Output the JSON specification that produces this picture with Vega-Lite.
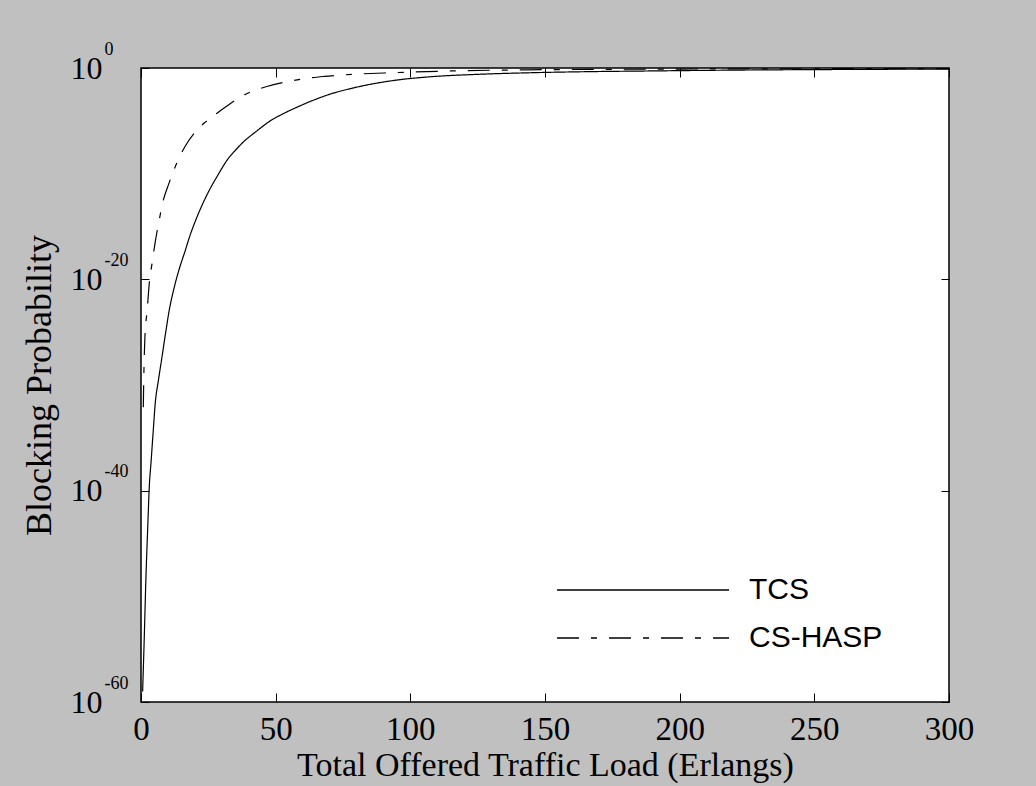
{
  "$schema": "https://vega.github.io/schema/vega-lite/v6.json",
  "width": 808,
  "height": 634,
  "autosize": "none",
  "padding": {"left": 141, "top": 68, "right": 87, "bottom": 84},
  "background": "#c0c0c0",
  "config": {
    "view": {"fill": "white", "stroke": "black", "strokeWidth": 1.5},
    "font": "Liberation Serif"
  },
  "datasets": {
    "curves": [
      {"load": 0.6, "p": 1e-59, "scheme": "TCS"},
      {"load": 1.2, "p": 1e-54, "scheme": "TCS"},
      {"load": 1.8, "p": 3.162e-49, "scheme": "TCS"},
      {"load": 2.5, "p": 3.162e-44, "scheme": "TCS"},
      {"load": 3.1, "p": 3.162e-40, "scheme": "TCS"},
      {"load": 3.7, "p": 3.981e-38, "scheme": "TCS"},
      {"load": 4.5, "p": 3.162e-35, "scheme": "TCS"},
      {"load": 5.3, "p": 1.995e-32, "scheme": "TCS"},
      {"load": 6.5, "p": 3.162e-30, "scheme": "TCS"},
      {"load": 7.7, "p": 3.162e-28, "scheme": "TCS"},
      {"load": 9.0, "p": 5.012e-26, "scheme": "TCS"},
      {"load": 10.5, "p": 1.259e-23, "scheme": "TCS"},
      {"load": 12.3, "p": 1.585e-21, "scheme": "TCS"},
      {"load": 14.1, "p": 7.943e-20, "scheme": "TCS"},
      {"load": 16.4, "p": 5.012e-18, "scheme": "TCS"},
      {"load": 18.0, "p": 1e-16, "scheme": "TCS"},
      {"load": 20.0, "p": 2.512e-15, "scheme": "TCS"},
      {"load": 23.0, "p": 1.585e-13, "scheme": "TCS"},
      {"load": 25.5, "p": 3.162e-12, "scheme": "TCS"},
      {"load": 28.4, "p": 6.31e-11, "scheme": "TCS"},
      {"load": 32.3, "p": 2.512e-9, "scheme": "TCS"},
      {"load": 35.0, "p": 1.585e-8, "scheme": "TCS"},
      {"load": 38.0, "p": 1e-7, "scheme": "TCS"},
      {"load": 42.8, "p": 1e-6, "scheme": "TCS"},
      {"load": 48.0, "p": 1e-5, "scheme": "TCS"},
      {"load": 53.0, "p": 5.012e-5, "scheme": "TCS"},
      {"load": 58.0, "p": 1.995e-4, "scheme": "TCS"},
      {"load": 64.0, "p": 8.913e-4, "scheme": "TCS"},
      {"load": 70.5, "p": 3.548e-3, "scheme": "TCS"},
      {"load": 77.0, "p": 1e-2, "scheme": "TCS"},
      {"load": 84.0, "p": 2.512e-2, "scheme": "TCS"},
      {"load": 95.0, "p": 0.0724, "scheme": "TCS"},
      {"load": 108.0, "p": 0.1514, "scheme": "TCS"},
      {"load": 125.0, "p": 0.2512, "scheme": "TCS"},
      {"load": 146.0, "p": 0.3631, "scheme": "TCS"},
      {"load": 165.0, "p": 0.4467, "scheme": "TCS"},
      {"load": 189.0, "p": 0.5248, "scheme": "TCS"},
      {"load": 220.0, "p": 0.631, "scheme": "TCS"},
      {"load": 260.0, "p": 0.7244, "scheme": "TCS"},
      {"load": 300.0, "p": 0.7943, "scheme": "TCS"},
      {"load": 0.85, "p": 7.943e-33, "scheme": "CS-HASP"},
      {"load": 1.1, "p": 3.162e-29, "scheme": "CS-HASP"},
      {"load": 1.45, "p": 3.162e-26, "scheme": "CS-HASP"},
      {"load": 2.3, "p": 1.259e-23, "scheme": "CS-HASP"},
      {"load": 3.1, "p": 5.012e-21, "scheme": "CS-HASP"},
      {"load": 4.1, "p": 3.162e-19, "scheme": "CS-HASP"},
      {"load": 5.2, "p": 2.512e-17, "scheme": "CS-HASP"},
      {"load": 6.9, "p": 6.31e-15, "scheme": "CS-HASP"},
      {"load": 8.0, "p": 1.585e-13, "scheme": "CS-HASP"},
      {"load": 10.4, "p": 1.259e-11, "scheme": "CS-HASP"},
      {"load": 13.3, "p": 1e-9, "scheme": "CS-HASP"},
      {"load": 16.4, "p": 3.981e-8, "scheme": "CS-HASP"},
      {"load": 20.7, "p": 1.259e-6, "scheme": "CS-HASP"},
      {"load": 24.0, "p": 7.943e-6, "scheme": "CS-HASP"},
      {"load": 28.1, "p": 5.012e-5, "scheme": "CS-HASP"},
      {"load": 31.9, "p": 2.512e-4, "scheme": "CS-HASP"},
      {"load": 38.0, "p": 2.512e-3, "scheme": "CS-HASP"},
      {"load": 46.7, "p": 1.778e-2, "scheme": "CS-HASP"},
      {"load": 54.2, "p": 5.012e-2, "scheme": "CS-HASP"},
      {"load": 61.0, "p": 0.1, "scheme": "CS-HASP"},
      {"load": 68.0, "p": 0.1585, "scheme": "CS-HASP"},
      {"load": 80.0, "p": 0.263, "scheme": "CS-HASP"},
      {"load": 94.0, "p": 0.3631, "scheme": "CS-HASP"},
      {"load": 115.0, "p": 0.5248, "scheme": "CS-HASP"},
      {"load": 150.0, "p": 0.6918, "scheme": "CS-HASP"},
      {"load": 200.0, "p": 0.7943, "scheme": "CS-HASP"},
      {"load": 250.0, "p": 0.8511, "scheme": "CS-HASP"},
      {"load": 300.0, "p": 0.8913, "scheme": "CS-HASP"}
    ]
  },
  "data": {"name": "curves"},
  "resolve": {"axis": {"x": "independent", "y": "independent"}},
  "layer": [
    {
      "mark": {"type": "line", "color": "black", "strokeWidth": 1.2, "interpolate": "monotone"},
      "encoding": {
        "x": {
          "field": "load", "type": "quantitative",
          "scale": {"domain": [0, 300], "nice": false},
          "axis": {
            "orient": "bottom", "values": [0, 50, 100, 150, 200, 250, 300],
            "title": "Total Offered Traffic Load (Erlangs)",
            "domain": false, "grid": false,
            "tickSize": -9, "tickColor": "black", "tickWidth": 1,
            "labelFont": "Liberation Serif", "labelFontSize": 33, "labelColor": "black",
            "labelPadding": 20, "labelFlush": false, "labelOverlap": false,
            "titleFont": "Liberation Serif", "titleFontSize": 34, "titleFontWeight": "normal", "titleColor": "black",
            "titlePadding": 2
          }
        },
        "y": {
          "field": "p", "type": "quantitative",
          "scale": {"type": "log", "domain": [1e-60, 1], "nice": false},
          "axis": {
            "orient": "left", "values": [1e-60, 1e-40, 1e-20, 1],
            "labelExpr": "'10'",
            "title": "Blocking Probability",
            "domain": false, "grid": false,
            "tickSize": -8, "tickColor": "black", "tickWidth": 1,
            "labelFont": "Liberation Serif", "labelFontSize": 32, "labelColor": "black",
            "labelPadding": 47, "labelFlush": false, "labelOverlap": false,
            "titleFont": "Liberation Serif", "titleFontSize": 36, "titleFontWeight": "normal", "titleColor": "black",
            "titlePadding": 12
          }
        },
        "strokeDash": {
          "field": "scheme", "type": "nominal",
          "scale": {"domain": ["TCS", "CS-HASP"], "range": [[1, 0], [22, 12, 6, 12]]},
          "legend": {
            "title": null, "orient": "none", "legendX": 415, "legendY": 507,
            "symbolType": "stroke", "symbolSize": 29584, "symbolStrokeColor": "black", "symbolStrokeWidth": 1.5,
            "labelFont": "Liberation Sans", "labelFontSize": 30, "labelColor": "black", "labelOffset": 19,
            "clipHeight": 30, "rowPadding": 18, "padding": 0
          }
        }
      }
    },
    {
      "mark": {"type": "line", "opacity": 0},
      "encoding": {
        "x": {
          "field": "load", "type": "quantitative",
          "axis": {"orient": "top", "values": [0, 50, 100, 150, 200, 250, 300], "labels": false, "title": null, "domain": false, "grid": false, "tickSize": -9, "tickColor": "black"}
        },
        "y": {
          "field": "p", "type": "quantitative",
          "axis": {"orient": "right", "values": [1e-60, 1e-40, 1e-20, 1], "labels": false, "title": null, "domain": false, "grid": false, "tickSize": -8, "tickColor": "black"}
        },
        "detail": {"field": "scheme", "type": "nominal"}
      }
    },
    {
      "mark": {"type": "line", "opacity": 0},
      "encoding": {
        "x": {"field": "load", "type": "quantitative", "axis": null},
        "y": {
          "field": "p", "type": "quantitative",
          "axis": {
            "orient": "left", "values": [1e-60, 1e-40, 1e-20, 1],
            "labelExpr": "datum.value > 0.5 ? '0' : datum.value < 1e-50 ? '-60' : datum.value < 1e-30 ? '-40' : '-20'",
            "title": null, "domain": false, "grid": false, "ticks": false,
            "labelFont": "Liberation Serif", "labelFontSize": 18, "labelColor": "black",
            "labelAlign": "left", "labelBaseline": "middle", "labelOffset": -19,
            "labelPadding": 37, "labelFlush": false, "labelOverlap": false
          }
        },
        "detail": {"field": "scheme", "type": "nominal"}
      }
    }
  ]
}
